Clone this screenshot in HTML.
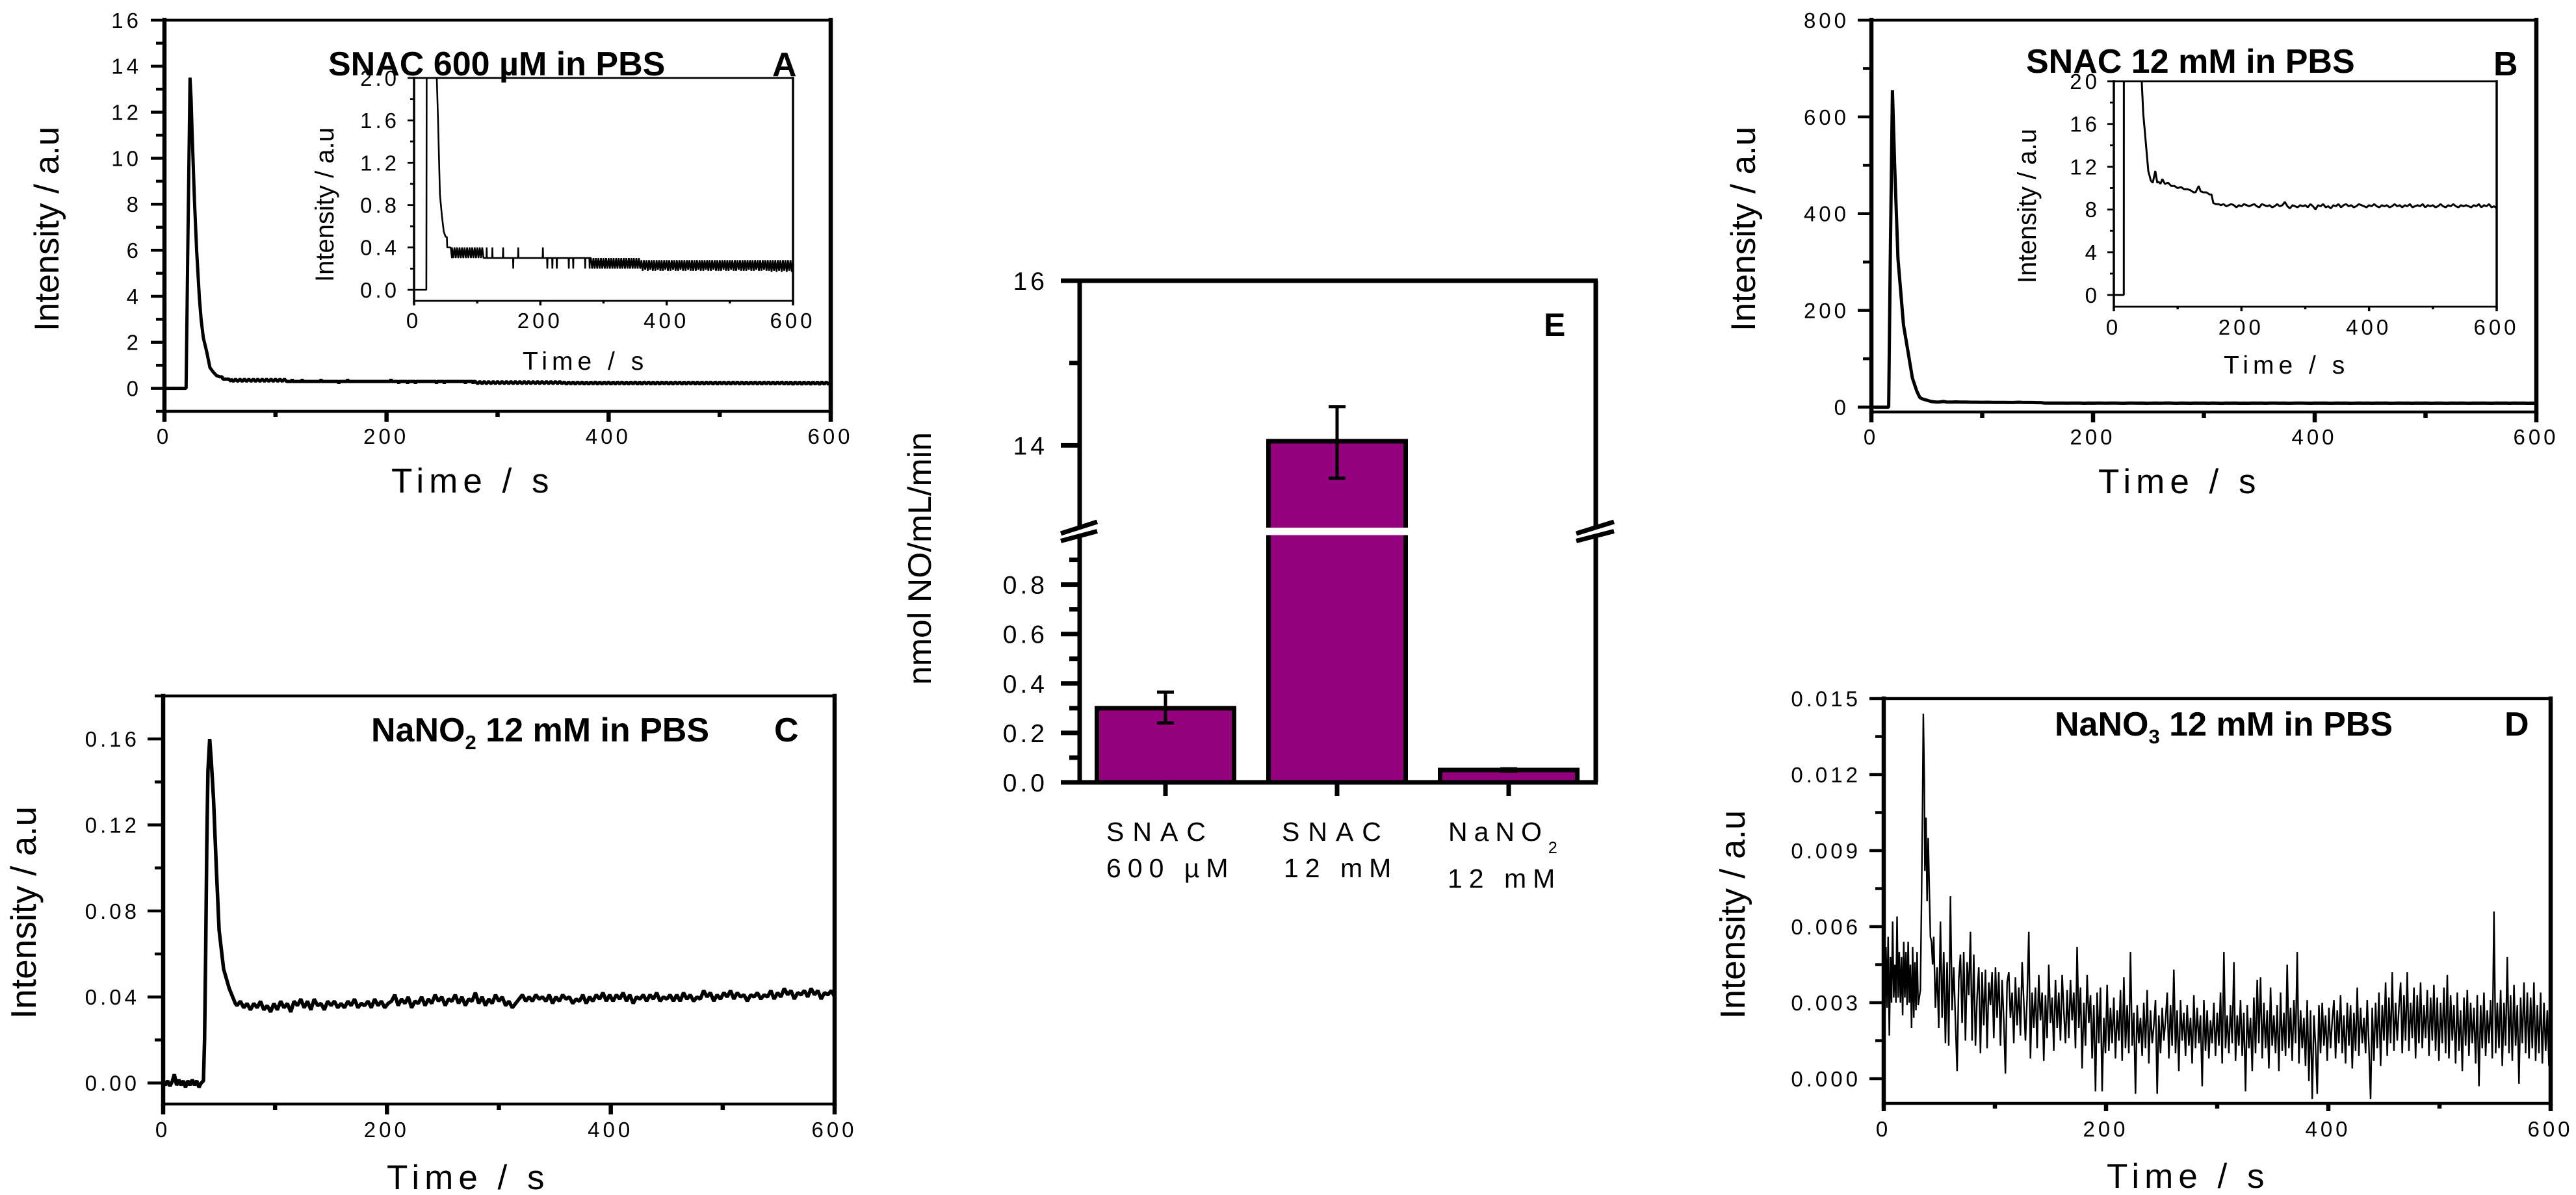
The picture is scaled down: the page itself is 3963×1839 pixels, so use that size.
<!DOCTYPE html>
<html lang="en">
<head>
<meta charset="utf-8">
<title>NO release from SNAC, NaNO2 and NaNO3</title>
<style>
html,body{margin:0;padding:0;background:#fff;}
svg{display:block;}
text{font-family:"Liberation Sans",Arial,sans-serif;fill:#000;}
.main-x{font-size:53px;letter-spacing:8px;}
.inset-x{font-size:39px;letter-spacing:7px;}
.main-y{font-size:53px;}
.inset-y{font-size:40px;}
.title{font-size:52px;font-weight:bold;}
.cat{font-size:41px;letter-spacing:13px;}
</style>
</head>
<body>
<svg id="figure" xmlns="http://www.w3.org/2000/svg" width="3963" height="1839" viewBox="0 0 3963 1839">
  <rect x="0" y="0" width="3963" height="1839" fill="#fff"/>

  <g id="panel-a">
    <g id="a-main"></g>
    <g id="a-inset"></g>
    <text class="main-x" x="602" y="758">Time / s</text>
    <text class="main-y" transform="translate(90,510) rotate(-90)">Intensity / a.u</text>
    <text class="inset-x" x="804" y="569">Time / s</text>
    <text class="inset-y" transform="translate(513,434) rotate(-90)">Intensity / a.u</text>
    <text class="title" x="505" y="116">SNAC 600 µM in PBS</text>
    <text class="title" x="1188" y="117">A</text>
  </g>

  <g id="panel-b">
    <g id="b-main"></g>
    <g id="b-inset"></g>
    <text class="main-x" x="3228" y="759">Time / s</text>
    <text class="main-y" transform="translate(2700,510) rotate(-90)">Intensity / a.u</text>
    <text class="inset-x" x="3421" y="575">Time / s</text>
    <text class="inset-y" transform="translate(3132,436) rotate(-90)">Intensity / a.u</text>
    <text class="title" x="3117" y="112">SNAC 12 mM in PBS</text>
    <text class="title" x="3836" y="116">B</text>
  </g>

  <g id="panel-c">
    <g id="c-main"></g>
    <text class="main-x" x="595" y="1830">Time / s</text>
    <text class="main-y" style="font-size:55px" transform="translate(55,1568) rotate(-90)">Intensity / a.u</text>
    <text class="title" x="571" y="1141">NaNO<tspan font-size="31" dy="12">2</tspan><tspan dy="-12"> 12 mM in PBS</tspan></text>
    <text class="title" x="1191" y="1141">C</text>
  </g>

  <g id="panel-d">
    <g id="d-main"></g>
    <text class="main-x" x="3241" y="1828">Time / s</text>
    <text class="main-y" style="font-size:54px" transform="translate(2684,1568) rotate(-90)">Intensity / a.u</text>
    <text class="title" x="3161" y="1132">NaNO<tspan font-size="31" dy="12">3</tspan><tspan dy="-12"> 12 mM in PBS</tspan></text>
    <text class="title" x="3853" y="1132">D</text>
  </g>

  <g id="panel-e">
    <g id="e-main"></g>
    <text font-size="50" textLength="389" lengthAdjust="spacingAndGlyphs" transform="translate(1432,1054) rotate(-90)">nmol NO/mL/min</text>
    <text class="title" style="font-size:50px" x="2375" y="517">E</text>
    <text class="cat" x="1702" y="1294">SNAC</text>
    <text class="cat" style="letter-spacing:10px" x="1702" y="1350">600 µM</text>
    <text class="cat" x="1972" y="1294">SNAC</text>
    <text class="cat" style="letter-spacing:10px" x="1975" y="1350">12 mM</text>
    <text class="cat" style="letter-spacing:10px" x="2228" y="1294">NaNO<tspan font-size="25" dy="19">2</tspan></text>
    <text class="cat" style="letter-spacing:10px" x="2227" y="1366">12 mM</text>
  </g>
</svg>

<script>
/* ---------- shared axis values ---------- */
const timeTicks = [0, 200, 400, 600];
const timeTickLabels = ["0", "200", "400", "600"];
const timeMinorTicks = [100, 300, 500];

/* ---------- panel A data ---------- */
const aYTicks = [0, 2, 4, 6, 8, 10, 12, 14, 16];
const aYLabels = ["0", "2", "4", "6", "8", "10", "12", "14", "16"];
const aYMinor = [-1, 1, 3, 5, 7, 9, 11, 13, 15];
const aInsetYTicks = [0, 0.4, 0.8, 1.2, 1.6, 2.0];
const aInsetYLabels = ["0.0", "0.4", "0.8", "1.2", "1.6", "2.0"];
const aInsetYMinor = [0.2, 0.6, 1.0, 1.4, 1.8];
const aPeakTimes = [0, 19, 19.5, 21, 23, 24, 25, 27, 29, 31.5, 33, 35, 38, 41, 44, 47, 50, 52, 52.5, 58, 60];
const aPeakValues = [0, 0, 0, 6, 13.5, 12.6, 11, 8.2, 6, 3.9, 3, 2.2, 1.6, 0.9, 0.7, 0.55, 0.5, 0.5, 0.4, 0.4, 0.3];
/* 60 - 110 s, sampled every 2 s */
const aBandValues = [0.4, 0.3, 0.4, 0.3, 0.4, 0.3, 0.4, 0.3, 0.4, 0.3, 0.4, 0.3, 0.4, 0.3, 0.4, 0.3, 0.4, 0.3, 0.4, 0.3, 0.4, 0.3, 0.4, 0.3, 0.4, 0.3];
/* 110 - 280 s, sparse flicker */
const aSparseTimes = [110, 114.6, 115, 115.4, 123.6, 124, 124.4, 140.6, 141, 141.4, 156.6, 157, 157.4, 164.6, 165, 165.4, 203.6, 204, 204.4, 210.6, 211, 211.4, 218.6, 219, 219.4, 225.6, 226, 226.4, 244.6, 245, 245.4, 251.6, 252, 252.4, 270.6, 271, 271.4, 277.6, 278, 278.4];
const aSparseValues = [0.3, 0.3, 0.4, 0.3, 0.3, 0.4, 0.3, 0.3, 0.4, 0.3, 0.3, 0.2, 0.3, 0.3, 0.4, 0.3, 0.3, 0.4, 0.3, 0.3, 0.2, 0.3, 0.3, 0.2, 0.3, 0.3, 0.2, 0.3, 0.3, 0.2, 0.3, 0.3, 0.2, 0.3, 0.3, 0.2, 0.3, 0.3, 0.2, 0.3];
/* 280 - 600 s, sampled every 2 s */
const aDenseValues = [
0.3,0.2,0.3,0.2,0.3,0.2,0.3,0.2,0.3,0.2,0.3,0.2,0.3,0.2,0.3,0.2,0.3,0.2,0.3,0.2,
0.3,0.2,0.3,0.2,0.3,0.2,0.3,0.2,0.3,0.2,0.3,0.2,0.3,0.2,0.3,0.2,0.3,0.2,0.3,0.2,
0.28,0.18,0.28,0.19,0.28,0.18,0.28,0.19,0.28,0.18,0.28,0.18,0.28,0.19,0.28,0.18,0.28,0.18,0.28,0.19,
0.28,0.18,0.28,0.18,0.28,0.19,0.28,0.18,0.28,0.18,0.28,0.19,0.28,0.18,0.28,0.18,0.28,0.19,0.28,0.18,
0.28,0.18,0.28,0.18,0.28,0.19,0.28,0.18,0.28,0.18,0.28,0.19,0.28,0.18,0.28,0.18,0.28,0.19,0.28,0.18,
0.28,0.18,0.28,0.18,0.28,0.19,0.28,0.18,0.28,0.18,0.28,0.19,0.28,0.18,0.28,0.18,0.28,0.19,0.28,0.18,
0.28,0.18,0.28,0.18,0.28,0.19,0.28,0.18,0.28,0.18,0.28,0.19,0.28,0.18,0.28,0.18,0.28,0.19,0.28,0.18,
0.28,0.18,0.28,0.17,0.28,0.18,0.28,0.17,0.28,0.18,0.28,0.17,0.28,0.18,0.28,0.17,0.28,0.18,0.28,0.17,0.28];

/* ---------- panel B data ---------- */
const bYTicks = [0, 200, 400, 600, 800];
const bYLabels = ["0", "200", "400", "600", "800"];
const bYMinor = [100, 300, 500, 700];
const bInsetYTicks = [0, 4, 8, 12, 16, 20];
const bInsetYLabels = ["0", "4", "8", "12", "16", "20"];
const bInsetYMinor = [2, 6, 10, 14, 18];
const bPeakTimes = [0, 15, 15.6, 17, 19, 21, 24, 29, 33, 37, 41, 43.7, 46, 50, 54, 58, 61, 65, 68, 70, 73, 76, 80, 85, 90, 95, 100, 105, 110, 115, 120, 125, 128, 133, 136, 140, 145, 150, 153, 156, 160];
const bPeakValues = [0, 0, 0, 300, 655, 500, 307, 170, 115, 60, 33, 20, 17, 14.3, 11.6, 10.7, 10.5, 11.6, 10.5, 10.6, 10.4, 10.85, 10.4, 10.5, 10.2, 10.2, 10.0, 10.1, 9.9, 9.9, 9.8, 9.6, 9.6, 10.2, 9.7, 9.6, 9.6, 9.4, 9.4, 8.6, 8.5];
/* 164 - 600 s, sampled every 4 s */
const bTailValues = [
8.5,8.4,8.5,8.3,8.4,8.5,8.4,8.2,8.4,8.3,8.5,8.4,8.3,8.4,8.5,8.3,8.2,8.5,8.4,8.3,
8.4,8.2,8.3,8.5,8.3,8.4,8.7,8.3,8.1,8.4,8.3,8.2,8.4,8.3,8.4,8.2,8.5,8.3,8.0,8.4,
8.3,8.5,8.2,8.3,8.1,8.4,8.3,8.5,8.2,8.4,8.5,8.3,8.4,8.2,8.3,8.5,8.4,8.3,8.2,8.4,
8.3,8.5,8.3,8.2,8.4,8.3,8.4,8.2,8.3,8.5,8.3,8.4,8.2,8.4,8.3,8.5,8.2,8.3,8.4,8.3,
8.5,8.2,8.4,8.3,8.4,8.2,8.3,8.5,8.3,8.2,8.4,8.3,8.5,8.3,8.2,8.4,8.3,8.4,8.3,8.2,
8.4,8.3,8.5,8.2,8.4,8.3,8.5,8.2,8.3,8.1];

/* ---------- panel C data (values in 0.001 a.u) ---------- */
const cYTicks = [0, 40, 80, 120, 160];
const cYLabels = ["0.00", "0.04", "0.08", "0.12", "0.16"];
const cYMinor = [20, 60, 100, 140, 180];
/* 0 - 36 s, sampled every 2 s */
const cBaseValues = [1, -1, 1, -1.5, 0.5, 4, -1, 1.5, -1, 1, -2, 1, -1, 1.5, -1, 1, -2, 0, 1];
const cPeakTimes = [37, 38, 39, 40, 41.6, 43, 45, 47.5, 50, 54, 59, 64.5];
const cPeakValues = [20, 60, 110, 145, 160, 150, 132, 100, 71, 53, 44, 37];
/* 66 - 600 s, sampled every 3 s */
const cTailValues = [
36,38,35,37,34,37,35,38,34,36,33,37,34,38,35,37,33,38,36,39,35,38,34,39,36,37,34,38,
36,38,35,37,35,38,36,39,35,37,36,38,35,39,36,38,35,37,38,41,36,39,37,40,35,38,37,40,
36,39,37,41,38,40,36,39,38,41,37,40,36,39,38,42,37,40,36,39,37,41,38,40,36,38,35,37,
39,41,38,40,38,41,39,40,38,41,37,40,38,41,39,40,37,39,38,41,37,40,38,41,39,42,38,41,
38,41,39,42,38,41,37,40,39,41,38,41,39,42,38,40,39,41,38,41,38,42,39,41,38,40,39,43,
40,42,38,41,39,42,40,43,39,42,40,41,38,41,40,42,39,41,40,43,39,42,40,44,41,43,39,42,
41,43,40,44,41,43,39,42,41,43,40,42];

/* ---------- panel D data (values in 0.001 a.u) ---------- */
const dYTicks = [0, 3, 6, 9, 12, 15];
const dYLabels = ["0.000", "0.003", "0.006", "0.009", "0.012", "0.015"];
const dYMinor = [1.5, 4.5, 7.5, 10.5, 13.5];
/* 0 - 32 s, sampled every 1 s */
const dBaseValues = [6.0, 2.3, 5.2, 2.8, 5.6, 1.7, 4.8, 3.0, 6.2, 3.2, 4.5, 3.0, 6.4, 3.2, 5.0, 3.0, 4.8, 2.5, 5.4, 3.2, 5.0, 2.9, 5.4, 3.0, 4.5, 2.0, 5.2, 2.4, 4.6, 2.7, 5.0, 2.9, 3.2];
const dPeakTimes = [33, 34, 35, 35.6, 36.5, 37, 38, 39, 40, 41, 42, 43, 44];
const dPeakValues = [3.5, 7, 11, 14.4, 11.8, 8.2, 10.3, 7, 9.5, 7.5, 5.6, 5.4, 4.5];
/* 45 - 600 s, sampled every 1.5 s */
const dTailValues = [
5.6,2.8,4.4,2.0,6.2,2.4,5.0,1.4,4.6,1.3,7.2,2.7,4.4,2.3,0.3,3.9,4.9,2.2,5.0,1.5,
4.6,3.3,5.8,1.5,4.9,1.3,3.2,4.4,1.0,4.2,2.1,4.3,1.2,3.8,2.9,4.2,1.6,4.4,2.4,4.2,
1.3,3.9,2.3,0.2,3.8,4.2,2.4,3.4,1.4,4.0,2.1,3.6,1.7,4.6,3.0,1.5,3.2,5.8,0.8,3.4,
2.0,3.6,1.2,4.1,2.3,3.4,0.7,3.3,1.6,4.5,2.2,3.2,1.1,3.9,2.0,3.4,1.5,4.1,2.7,1.4,
3.5,1.6,3.9,2.3,3.4,1.2,5.2,2.0,3.6,0.4,3.0,1.3,4.1,2.2,3.3,0.8,2.9,-0.5,3.4,1.4,
3.6,-0.5,2.4,1.0,3.7,1.1,2.8,1.4,3.2,0.8,2.7,1.5,3.5,0.7,4.0,1.2,2.9,1.0,5.0,1.3,
2.6,-0.6,2.9,1.4,2.4,0.9,3.0,1.2,3.5,0.6,2.7,1.4,2.1,3.1,-0.6,2.5,1.0,2.8,1.5,2.3,
3.4,0.8,2.9,1.3,4.3,1.0,2.7,0.3,3.1,1.5,2.6,0.9,2.9,1.3,2.4,0.6,3.3,1.2,2.8,1.4,
2.5,-0.3,3.1,1.1,2.7,0.8,2.3,1.4,3.0,0.9,2.6,1.3,3.4,0.6,5.0,1.2,2.5,1.0,2.9,1.4,
4.6,0.7,2.5,1.3,3.1,0.9,2.6,-0.5,2.9,1.2,2.4,0.3,3.2,1.0,3.9,1.4,4.0,0.8,3.0,1.2,
2.7,0.4,3.6,1.3,2.5,1.0,2.9,0.3,3.4,1.1,2.6,0.9,4.5,1.2,2.8,0.7,3.1,1.4,5.0,0.6,
2.7,1.2,2.4,0.5,3.1,-0.1,2.7,-0.8,2.5,1.3,-0.6,2.9,1.0,3.0,1.3,2.5,0.7,2.8,1.2,2.3,
3.1,0.8,2.7,1.4,3.3,1.0,2.5,0.6,3.0,1.3,2.9,0.4,2.6,1.1,3.6,0.9,2.8,1.4,2.4,1.0,
3.1,1.3,-0.8,2.8,0.7,3.0,1.2,3.4,0.5,2.9,1.5,3.8,0.9,3.2,1.4,4.2,1.1,3.0,1.5,2.8,
3.8,1.0,3.3,1.5,4.2,1.1,3.0,1.6,3.6,0.8,3.3,1.4,3.8,1.2,2.9,1.6,3.5,0.9,3.2,1.5,
3.7,1.1,3.2,0.7,3.0,1.4,3.6,1.0,4.1,0.8,3.3,1.5,2.9,0.6,3.4,1.1,2.7,0.3,3.2,1.3,
3.5,0.9,3.0,1.4,2.8,0.6,3.3,-0.3,2.9,1.2,3.4,0.9,2.7,1.4,3.1,0.8,6.6,1.0,3.0,1.2,
3.5,0.5,3.0,1.3,4.8,1.0,3.3,0.7,3.7,1.3,2.9,-0.2,3.2,1.4,3.8,1.0,3.4,0.8,3.2,1.2,3.8,0.7,2.9,1.0,3.4,0.6,3.0,1.1,2.7,0.5];

/* ---------- panel E data ---------- */
const eValues = [0.3, 14.05, 0.05];
const eErrLow = [0.24, 13.6, 0.045];
const eErrHigh = [0.365, 14.47, 0.055];
const eLowerTicks = [0, 0.2, 0.4, 0.6, 0.8];
const eLowerLabels = ["0.0", "0.2", "0.4", "0.6", "0.8"];
const eLowerMinor = [0.1, 0.3, 0.5, 0.7, 0.9];
const eUpperTicks = [14, 16];
const eUpperLabels = ["14", "16"];
const eUpperMinor = [15];

/* ---------- helpers ---------- */
const NS = "http://www.w3.org/2000/svg";
function mk(parent, tag, name, attrs) {
  const el = document.createElementNS(NS, tag);
  
  
  for (const k in attrs) el.setAttribute(k, attrs[k]);
  parent.appendChild(el);
  return el;
}
function linear(d0, d1, r0, r1) {
  return v => r0 + (v - d0) * (r1 - r0) / (d1 - d0);
}
function paired(times, values) {
  return values.map((v, i) => [times[i], v]);
}
function stepped(start, step, values) {
  return values.map((v, i) => [start + i * step, v]);
}
function drawPanel(c) {
  const g = document.getElementById(c.id);
  const x = linear(0, 600, c.l, c.r);
  const y = linear(c.yMin, c.yMax, c.b, c.t);
  const horiz = { stroke: "#000", "stroke-width": c.hw, "stroke-linecap": "square" };
  const vert = { stroke: "#000", "stroke-width": c.vw, "stroke-linecap": "square" };
  const vertTick = { stroke: "#000", "stroke-width": c.vw };
  const horizTick = { stroke: "#000", "stroke-width": c.hw };
  mk(g, "line", c.prefix + "-axis-top", Object.assign({ x1: c.l, x2: c.r, y1: c.t, y2: c.t }, horiz));
  mk(g, "line", c.prefix + "-axis-bottom", Object.assign({ x1: c.l, x2: c.r, y1: c.b, y2: c.b }, horiz));
  mk(g, "line", c.prefix + "-axis-left", Object.assign({ x1: c.l, x2: c.l, y1: c.t, y2: c.b }, vert));
  mk(g, "line", c.prefix + "-axis-right", Object.assign({ x1: c.r, x2: c.r, y1: c.t, y2: c.b }, vert));
  c.yTicks.forEach((v, i) => {
    mk(g, "line", c.prefix + "-y-tick", Object.assign({ x1: c.l - c.yMaj, x2: c.l, y1: y(v), y2: y(v) }, horizTick));
    const t = mk(g, "text", c.prefix + "-y-tick-label", { x: c.labelRight + c.ls, y: y(v) + c.fs * 0.36, "text-anchor": "end", "font-size": c.fs, style: "letter-spacing:" + c.ls + "px" });
    t.textContent = c.yLabels[i];
  });
  c.yMinor.forEach(v => {
    mk(g, "line", c.prefix + "-y-minor-tick", Object.assign({ x1: c.l - c.yMin2, x2: c.l, y1: y(v), y2: y(v) }, horizTick));
  });
  timeTicks.forEach((v, i) => {
    mk(g, "line", c.prefix + "-x-tick", Object.assign({ x1: x(v), x2: x(v), y1: c.b, y2: c.b + c.xMaj }, vertTick));
    const t = mk(g, "text", c.prefix + "-x-tick-label", { x: x(v) + c.ls / 2 - 3, y: c.xBase, "text-anchor": "middle", "font-size": c.fs, style: "letter-spacing:" + c.ls + "px" });
    t.textContent = timeTickLabels[i];
  });
  timeMinorTicks.forEach(v => {
    mk(g, "line", c.prefix + "-x-minor-tick", Object.assign({ x1: x(v), x2: x(v), y1: c.b, y2: c.b + c.xMin }, vertTick));
  });
  const clipId = c.prefix + "-clip";
  const clip = mk(g, "clipPath", c.prefix + "-clip-region", { id: clipId });
  mk(clip, "rect", c.prefix + "-clip-rect", { x: c.l, y: c.t, width: c.r - c.l, height: c.b - c.t + 20 });
  mk(g, "polyline", c.prefix + "-trace", {
    points: c.series.map(p => x(p[0]).toFixed(1) + "," + y(p[1]).toFixed(1)).join(" "),
    fill: "none", stroke: "#000", "stroke-width": c.lineW, "stroke-linejoin": "bevel", "clip-path": "url(#" + clipId + ")"
  });
}

/* ---------- series ---------- */
const aSeries = [].concat(paired(aPeakTimes, aPeakValues), stepped(60, 2, aBandValues), paired(aSparseTimes, aSparseValues), stepped(280, 2, aDenseValues));
const bSeries = [].concat(paired(bPeakTimes, bPeakValues), stepped(164, 4, bTailValues));
const cSeries = [].concat(stepped(0, 2, cBaseValues), paired(cPeakTimes, cPeakValues), stepped(66, 3, cTailValues));
const dSeries = [].concat(stepped(0, 1, dBaseValues), paired(dPeakTimes, dPeakValues), stepped(45, 1.5, dTailValues));

drawPanel({ id: "a-main", prefix: "a", l: 253, r: 1278, t: 31, b: 633, yMin: -1, yMax: 16, vw: 6.5, hw: 4.5, yMaj: 21, yMin2: 13, xMaj: 16, xMin: 9, fs: 33, ls: 5, labelRight: 213, xBase: 683, lineW: 5, yTicks: aYTicks, yLabels: aYLabels, yMinor: aYMinor, series: aSeries });
drawPanel({ id: "a-inset", prefix: "a-inset", l: 637, r: 1220, t: 120, b: 463, yMin: -0.104, yMax: 2.0, vw: 3.5, hw: 2.8, yMaj: 10, yMin2: 6, xMaj: 7, xMin: 4, fs: 33, ls: 5, labelRight: 610, xBase: 505, lineW: 2.6, yTicks: aInsetYTicks, yLabels: aInsetYLabels, yMinor: aInsetYMinor, series: aSeries });
drawPanel({ id: "b-main", prefix: "b", l: 2879, r: 3902, t: 31, b: 634, yMin: -10, yMax: 800, vw: 6.5, hw: 4.5, yMaj: 21, yMin2: 13, xMaj: 16, xMin: 9, fs: 33, ls: 5, labelRight: 2840, xBase: 684, lineW: 5, yTicks: bYTicks, yLabels: bYLabels, yMinor: bYMinor, series: bSeries });
drawPanel({ id: "b-inset", prefix: "b-inset", l: 3252, r: 3841, t: 125, b: 472, yMin: -1.1, yMax: 20, vw: 3.5, hw: 2.8, yMaj: 10, yMin2: 6, xMaj: 7, xMin: 4, fs: 33, ls: 5, labelRight: 3226, xBase: 515, lineW: 3, yTicks: bInsetYTicks, yLabels: bInsetYLabels, yMinor: bInsetYMinor, series: bSeries });
drawPanel({ id: "c-main", prefix: "c", l: 251, r: 1284, t: 1071, b: 1699, yMin: -9.8, yMax: 180, vw: 6.5, hw: 4.5, yMaj: 24, yMin2: 13, xMaj: 16, xMin: 9, fs: 33, ls: 5, labelRight: 210, xBase: 1750, lineW: 5.5, yTicks: cYTicks, yLabels: cYLabels, yMinor: cYMinor, series: cSeries });
drawPanel({ id: "d-main", prefix: "d", l: 2898, r: 3924, t: 1075, b: 1698, yMin: -0.974, yMax: 15, vw: 6.5, hw: 4.5, yMaj: 22, yMin2: 13, xMaj: 12, xMin: 8, fs: 33, ls: 5, labelRight: 2858, xBase: 1749, lineW: 2.4, yTicks: dYTicks, yLabels: dYLabels, yMinor: dYMinor, series: dSeries });

/* ---------- panel E: broken-axis bar chart ---------- */
(function () {
  const g = document.getElementById("e-main");
  const lowerY = linear(0, 1, 1204, 823.5);
  const upperY = linear(13, 16, 812, 432);
  const yE = v => (v <= 1 ? lowerY(v) : upperY(v));
  const xE = i => 1793 + i * 264;
  const barW = 211, left = 1661, right = 2455, tickLeft = 1632;
  const frame = { stroke: "#000", "stroke-width": 7 };

  eValues.forEach((v, i) => {
    mk(g, "rect", "bar-" + i, { x: xE(i) - barW / 2, y: yE(v), width: barW, height: yE(0) - yE(v), fill: "#95007f", stroke: "#000", "stroke-width": 7 });
    if (v > 1) {
      mk(g, "rect", "bar-break-gap-" + i, { x: xE(i) - barW / 2 - 6, y: yE(13), width: barW + 12, height: yE(1) - yE(13), fill: "#fff" });
    }
    mk(g, "line", "error-bar-" + i, { x1: xE(i), x2: xE(i), y1: yE(eErrLow[i]), y2: yE(eErrHigh[i]), stroke: "#000", "stroke-width": 5 });
    mk(g, "line", "error-cap-low-" + i, { x1: xE(i) - 13, x2: xE(i) + 13, y1: yE(eErrLow[i]), y2: yE(eErrLow[i]), stroke: "#000", "stroke-width": 5 });
    mk(g, "line", "error-cap-high-" + i, { x1: xE(i) - 13, x2: xE(i) + 13, y1: yE(eErrHigh[i]), y2: yE(eErrHigh[i]), stroke: "#000", "stroke-width": 5 });
    mk(g, "line", "x-tick-" + i, Object.assign({ x1: xE(i), x2: xE(i), y1: 1204, y2: 1225 }, frame));
  });

  mk(g, "line", "axis-top", Object.assign({ x1: tickLeft, x2: right + 3, y1: yE(16), y2: yE(16) }, frame));
  mk(g, "line", "axis-bottom", Object.assign({ x1: tickLeft, x2: right + 3, y1: yE(0), y2: yE(0) }, frame));
  mk(g, "line", "axis-left-upper", Object.assign({ x1: left, x2: left, y1: yE(16), y2: yE(13) }, frame));
  mk(g, "line", "axis-left-lower", Object.assign({ x1: left, x2: left, y1: yE(1), y2: yE(0) }, frame));
  mk(g, "line", "axis-right-upper", Object.assign({ x1: right, x2: right, y1: yE(16), y2: yE(13) }, frame));
  mk(g, "line", "axis-right-lower", Object.assign({ x1: right, x2: right, y1: yE(1), y2: yE(0) }, frame));

  function yMajor(v, label, name) {
    mk(g, "line", name + "-tick", Object.assign({ x1: tickLeft, x2: left, y1: yE(v), y2: yE(v) }, frame));
    const t = mk(g, "text", name + "-tick-label", { x: 1612, y: yE(v) + 14, "text-anchor": "end", "font-size": 39, style: "letter-spacing:5px" });
    t.textContent = label;
  }
  eLowerTicks.forEach((v, i) => yMajor(v, eLowerLabels[i], "lower-y"));
  eUpperTicks.forEach((v, i) => yMajor(v, eUpperLabels[i], "upper-y"));
  eLowerMinor.concat(eUpperMinor).forEach(v => {
    mk(g, "line", "y-minor-tick", Object.assign({ x1: left - 16, x2: left, y1: yE(v), y2: yE(v) }, frame));
  });

  [[1632, 1688], [2425, 2483]].forEach((p, i) => {
    mk(g, "line", "axis-break-mark-upper-" + i, { x1: p[0], x2: p[1], y1: yE(13) + 9, y2: yE(13) - 9, stroke: "#000", "stroke-width": 7 });
    mk(g, "line", "axis-break-mark-lower-" + i, { x1: p[0], x2: p[1], y1: yE(1) + 9, y2: yE(1) - 6, stroke: "#000", "stroke-width": 7 });
  });
})();
</script>
</body>
</html>
